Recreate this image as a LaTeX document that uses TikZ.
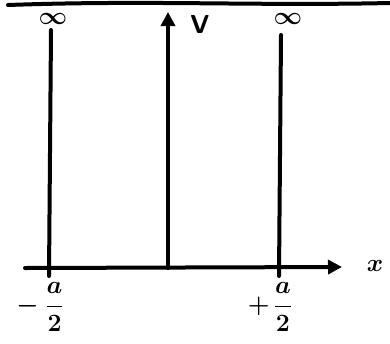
\documentclass[tikz,border=0pt]{standalone}
\usepackage{amsmath,bm}
\usetikzlibrary{arrows.meta}
\begin{document}
\begin{tikzpicture}[x=1pt,y=-1pt,
  stroke/.style={line width=4pt,line cap=round},
  lbl/.style={inner sep=0pt,font=\sffamily\bfseries\fontsize{26}{26}\selectfont},
  frac/.style={inner sep=0pt,font=\fontsize{23}{23}\selectfont}]
\useasboundingbox (0,0) rectangle (390,343);
% top line
\coordinate (tl) at (8,5);
\coordinate (tr) at (390,3);
\draw[stroke] (tl) .. controls (150,0) and (250,6) .. (tr);
% walls
\coordinate (lwt) at (51,30);
\coordinate (lwb) at (49,276);
\coordinate (rwt) at (281,35);
\coordinate (rwb) at (279,276);
\draw[stroke] (lwt) -- (lwb);
\draw[stroke] (rwt) -- (rwb);
% axes
\coordinate (vb) at (168,268);
\coordinate (vt) at (168,12);
\draw[stroke,-{Triangle[length=14pt,width=14pt]}] (vb) -- (vt);
\coordinate (xl) at (25,268);
\coordinate (xr) at (342,267);
\draw[stroke,-{Triangle[length=14pt,width=14pt]}] (xl) -- (xr);
% labels
\node[lbl] (V) at (200,24) {V};
\node[lbl] (inf1) at (53,19) {$\bm{\infty}$};
\node[lbl] (inf2) at (288,19) {$\bm{\infty}$};
\node[lbl] (xlab) at (375,266) {$\bm{x}$};
\node[frac] (ml) at (40,307) {$\bm{-\;\dfrac{a}{2}}$};
\node[frac] (pl) at (270,307) {$\bm{+\,\dfrac{a}{2}}$};
\end{tikzpicture}
\end{document}
